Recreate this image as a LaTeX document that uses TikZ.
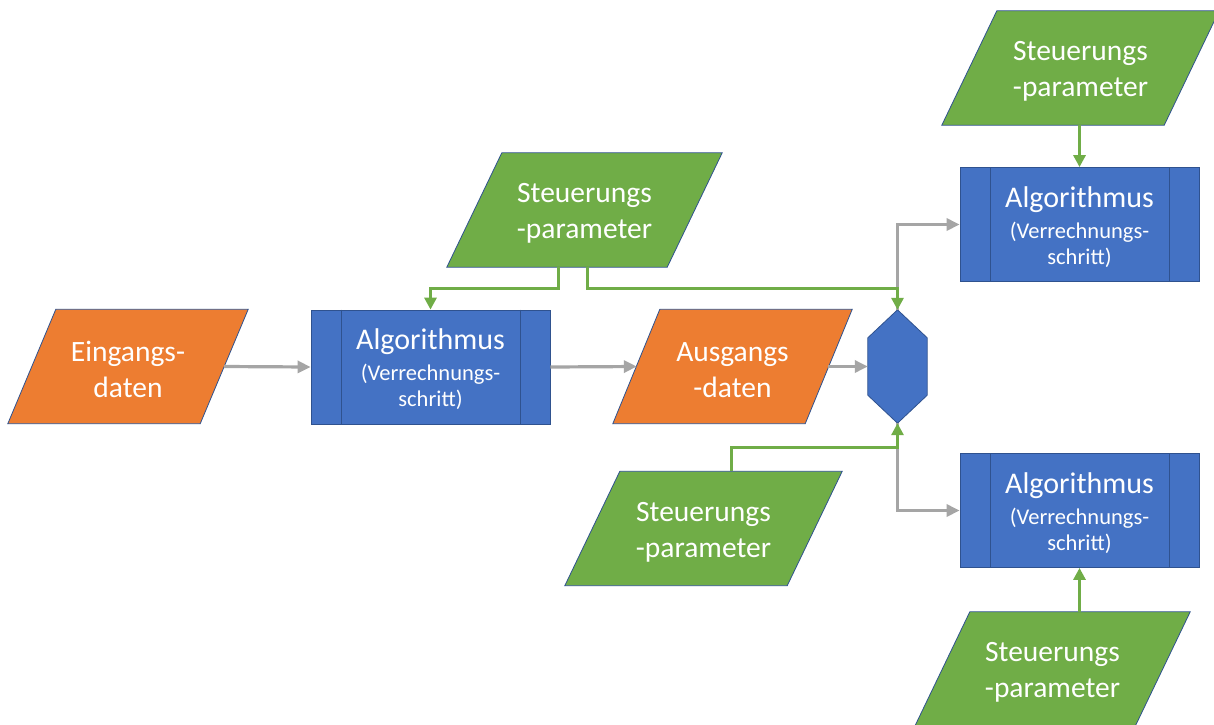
\documentclass[tikz,border=0pt]{standalone}
\usepackage{fontspec}
\setmainfont{Carlito}
\usetikzlibrary{calc,arrows.meta,backgrounds}
\definecolor{cblue}{HTML}{4472C4}
\definecolor{corange}{HTML}{ED7D31}
\definecolor{cgreen}{HTML}{70AD47}
\definecolor{cgray}{HTML}{A5A5A5}
\definecolor{cedge}{HTML}{2F528F}
\newcommand\paral[3]{\filldraw[fill=#3, draw=cedge, line width=0.8pt] ($(#1.north west)+(#2,0)$) -- (#1.north east) -- ($(#1.south east)-(#2,0)$) -- (#1.south west) -- cycle;}
\newcommand\algolines[1]{\draw[cedge, line width=1pt] ($(#1.north west)+(31,0)$) -- ($(#1.south west)+(31,0)$);
  \draw[cedge, line width=1pt] ($(#1.north east)-(30,0)$) -- ($(#1.south east)-(30,0)$);}
\newcommand\tallstrut{\rule{0pt}{26pt}}
\begin{document}
\begin{tikzpicture}[x=1pt,y=-1pt,
  ptext/.style={inner sep=0pt, minimum height=114pt, text=white, align=center, font=\fontsize{29.5}{36}\selectfont},
  algo/.style={draw=cedge, line width=0.8pt, fill=cblue, minimum width=239pt, minimum height=114pt, inner sep=0pt, text=white, align=center, font=\fontsize{22.5}{26}\selectfont},
  hexnode/.style={inner sep=0pt, minimum width=59pt, minimum height=113pt},
  grayarrow/.style={draw=cgray, line width=3.2pt, -{Triangle[length=13pt,width=12pt]}},
  greenarrow/.style={draw=cgreen, line width=3pt, -{Triangle[length=12pt,width=12pt]}}
]
\useasboundingbox (0,0) rectangle (1214,724);

% parallelogram text nodes
\node[ptext, minimum width=240pt] (ein) at (128,366.5) {\tallstrut Eingangs-\\daten};
\node[ptext, minimum width=239pt] (aus) at (732.5,366.5) {\tallstrut Ausgangs\\-daten};
\node[ptext, minimum width=275pt] (sp1) at (584.5,210) {\tallstrut Steuerungs\\-parameter};
\node[ptext, minimum width=277pt] (sp2) at (1080.5,68) {\tallstrut Steuerungs\\-parameter};
\node[ptext, minimum width=277pt] (sp3) at (703.5,528.5) {\tallstrut Steuerungs\\-parameter};
\node[ptext, minimum width=275pt] (sp4) at (1052.5,669) {\tallstrut Steuerungs\\-parameter};

% algorithm boxes
\node[algo] (b1) at (430.5,367) {{\fontsize{30}{31}\selectfont\tallstrut Algorithmus}\\[5pt](Verrechnungs-\\schritt)};
\node[algo] (b2) at (1079.5,224.5) {{\fontsize{30}{31}\selectfont\tallstrut Algorithmus}\\[5pt](Verrechnungs-\\schritt)};
\node[algo] (b3) at (1079.5,510.5) {{\fontsize{30}{31}\selectfont\tallstrut Algorithmus}\\[5pt](Verrechnungs-\\schritt)};
\algolines{b1}
\algolines{b2}
\algolines{b3}

% hexagon
\node[hexnode] (hex) at (897.5,366.5) {};

\begin{pgfonlayer}{background}
  \fill[white] (0,0) rectangle (1214,724);
  \paral{ein}{48}{corange}
  \paral{aus}{47}{corange}
  \paral{sp1}{55}{cgreen}
  \paral{sp2}{55}{cgreen}
  \paral{sp3}{55}{cgreen}
  \paral{sp4}{55}{cgreen}
  \filldraw[fill=cblue, draw=cedge, line width=0.8pt] (hex.north) -- ($(hex.north east)+(0,28)$) -- ($(hex.south east)-(0,28)$) -- (hex.south) -- ($(hex.south west)-(0,28)$) -- ($(hex.north west)+(0,28)$) -- cycle;
\end{pgfonlayer}

% gray connectors
\draw[grayarrow] ($(ein.east)-(24,0)$) -- (b1.west);
\draw[grayarrow] (b1.east) -- ($(aus.west)+(24,0)$);
\draw[grayarrow] ($(aus.east)-(24,0)$) -- (hex.west);
\draw[grayarrow] (hex.north) |- (b2.west);
\draw[grayarrow] (hex.south) |- (b3.west);

% green connectors
\draw[greenarrow] ($(sp1.south)+(-26.5,0)$) -- ++(0,21) -| (b1.north);
\draw[greenarrow] ($(sp1.south)+(2.5,0)$) -- ++(0,21) -| (hex.north);
\draw[greenarrow] ($(sp3.north)+(27.5,0)$) -- ++(0,-24) -| (hex.south);
\draw[greenarrow] (b2.north |- sp2.south) -- (b2.north);
\draw[greenarrow] (b3.south |- sp4.north) -- (b3.south);
\end{tikzpicture}
\end{document}
